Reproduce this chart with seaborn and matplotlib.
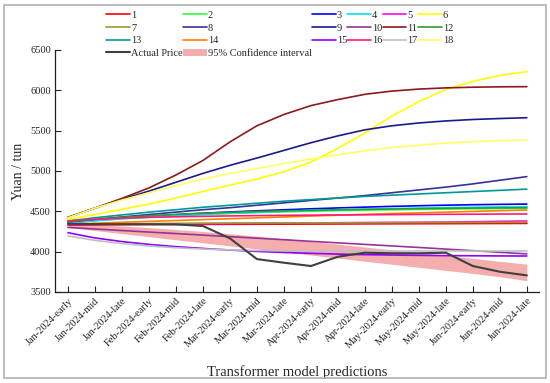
"""Transformer model predictions vs actual price, with 95% CI band."""
import matplotlib
matplotlib.use("Agg")
import matplotlib.pyplot as plt
from matplotlib.patches import Rectangle
import numpy as np
import pandas as pd
import seaborn as sns

# ---------------------------------------------------------------------------
# Data
# ---------------------------------------------------------------------------

periods = [
    "Jan-2024-early", "Jan-2024-mid", "Jan-2024-late",
    "Feb-2024-early", "Feb-2024-mid", "Feb-2024-late",
    "Mar-2024-early", "Mar-2024-mid", "Mar-2024-late",
    "Apr-2024-early", "Apr-2024-mid", "Apr-2024-late",
    "May-2024-early", "May-2024-mid", "May-2024-late",
    "Jun-2024-early", "Jun-2024-mid", "Jun-2024-late",
]

s1 = [4330, 4332, 4334, 4336, 4337, 4338, 4339, 4340, 4341, 4342, 4343, 4344, 4345, 4346, 4347, 4348, 4349, 4350]
s2 = [4355, 4385, 4410, 4430, 4447, 4461, 4473, 4484, 4493, 4501, 4508, 4514, 4519, 4524, 4528, 4532, 4535, 4538]
s3 = [4360, 4390, 4415, 4438, 4458, 4476, 4492, 4506, 4519, 4531, 4542, 4552, 4561, 4569, 4576, 4582, 4586, 4590]
s4 = [4355, 4383, 4407, 4428, 4446, 4462, 4476, 4489, 4500, 4510, 4519, 4527, 4534, 4540, 4546, 4551, 4555, 4558]
s5 = [4335, 4338, 4341, 4344, 4346, 4348, 4350, 4352, 4354, 4356, 4358, 4360, 4362, 4364, 4367, 4371, 4376, 4380]
s6 = [4400, 4460, 4525, 4590, 4665, 4745, 4825, 4900, 4990, 5110, 5280, 5470, 5680, 5860, 6010, 6110, 6185, 6230]
s7 = [4340, 4343, 4346, 4348, 4350, 4352, 4354, 4355, 4356, 4357, 4358, 4359, 4360, 4361, 4362, 4363, 4364, 4365]
s8 = [4370, 4400, 4430, 4460, 4490, 4520, 4545, 4575, 4605, 4635, 4665, 4695, 4730, 4765, 4800, 4840, 4885, 4930]
s9 = [4425, 4540, 4650, 4750, 4860, 4970, 5070, 5160, 5255, 5350, 5435, 5510, 5560, 5595, 5620, 5638, 5650, 5660]
s10 = [4300, 4281, 4262, 4243, 4224, 4205, 4186, 4167, 4148, 4128, 4109, 4090, 4071, 4052, 4032, 4012, 3992, 3972]
s11 = [4425, 4540, 4660, 4790, 4950, 5130, 5360, 5560, 5700, 5810, 5885, 5950, 5990, 6015, 6030, 6038, 6043, 6045]
s12 = [4370, 4400, 4425, 4445, 4462, 4476, 4488, 4498, 4506, 4513, 4519, 4524, 4529, 4533, 4537, 4540, 4543, 4545]
s13 = [4380, 4420, 4455, 4490, 4520, 4550, 4575, 4600, 4625, 4645, 4665, 4685, 4700, 4715, 4730, 4745, 4760, 4775]
s14 = [4340, 4352, 4364, 4375, 4386, 4397, 4408, 4419, 4430, 4441, 4452, 4462, 4472, 4481, 4490, 4499, 4508, 4516]
s15 = [4235, 4170, 4125, 4090, 4062, 4040, 4020, 4003, 3990, 3979, 3970, 3963, 3958, 3954, 3951, 3949, 3947, 3946]
s16 = [4380, 4400, 4415, 4425, 4432, 4438, 4443, 4447, 4450, 4453, 4455, 4457, 4459, 4461, 4463, 4464, 4466, 4467]
s17 = [4195, 4140, 4100, 4070, 4048, 4032, 4022, 4015, 4012, 4010, 4009, 4008, 4008, 4008, 4008, 4008, 4008, 4008]
s18 = [4420, 4540, 4640, 4730, 4820, 4900, 4970, 5030, 5090, 5150, 5200, 5250, 5290, 5320, 5345, 5362, 5375, 5385]

actual_price = [4345, 4342, 4340, 4340, 4338, 4318, 4165, 3908, 3863, 3822, 3937, 3987, 3980, 3980, 3987, 3822, 3751, 3706]
ci_upper = [4350, 4335, 4318, 4298, 4275, 4250, 4222, 4192, 4160, 4127, 4093, 4058, 4022, 3990, 3955, 3918, 3880, 3845]
ci_lower = [4300, 4262, 4224, 4186, 4148, 4110, 4072, 4034, 3996, 3958, 3920, 3882, 3844, 3806, 3768, 3730, 3690, 3640]

series = [s1, s2, s3, s4, s5, s6, s7, s8, s9, s10, s11, s12, s13, s14, s15, s16, s17, s18]
series_names = [str(i) for i in range(1, 19)]
series_colors = [
    "#ff0000", "#33ff33", "#0000ff", "#00e5ff", "#ff00ff", "#ffff00",
    "#999933", "#333399", "#1a1a8c", "#993399", "#8b1a1a", "#339933",
    "#009999", "#ff8000", "#8f00ff", "#ff1a75", "#c0c0c0", "#ffff66",
]

# ---------------------------------------------------------------------------
# Plot
# ---------------------------------------------------------------------------

sns.set_style("ticks")
plt.rcParams["font.family"] = ["Liberation Serif", "DejaVu Serif"]
plt.rcParams["xtick.direction"] = "in"
plt.rcParams["ytick.direction"] = "in"

fig = plt.figure(figsize=(5.5, 3.83), dpi=100)
ax = fig.add_axes([0.1, 0.2376, 0.88, 0.632])

x = np.arange(len(periods))

ax.fill_between(x, ci_lower, ci_upper, color="#f4a0a0", alpha=0.85, linewidth=0,
                label="95% Confidence interval", zorder=1)

for name, vals, c in zip(series_names, series, series_colors):
    sns.lineplot(x=x, y=vals, color=c, linewidth=1.2, label=name, ax=ax, zorder=2)

sns.lineplot(x=x, y=actual_price, color="#404040", linewidth=1.5,
             label="Actual Price", ax=ax, zorder=3)

ax.set_xlim(-0.48, 17.45)
ax.set_ylim(3500, 6500)
ax.set_yticks(np.arange(3500, 6501, 500))
ax.set_xticks(x)
ax.set_xticklabels(periods, rotation=45, ha="right", rotation_mode="anchor", fontsize=7.5)
ax.tick_params(axis="y", labelsize=7.5, length=4, width=0.8, pad=3)
ax.tick_params(axis="x", length=4, width=0.8, pad=3)
sns.despine(ax=ax)
for sp in ("left", "bottom"):
    ax.spines[sp].set_linewidth(0.9)
    ax.spines[sp].set_color("#222222")

ax.set_xlabel("Transformer model predictions", fontsize=10.5, labelpad=11)
ax.set_ylabel("Yuan / tun", fontsize=10, labelpad=4)

# legend: 6 columns filled row-wise as in the original
handles, labels = ax.get_legend_handles_labels()
hmap = dict(zip(labels, handles))
order = ["1", "7", "13", "Actual Price", "2", "8", "14", "95% Confidence interval",
         "3", "9", "15", "4", "10", "16", "5", "11", "17", "6", "12", "18"]
ax.legend([hmap[k] for k in order], order, ncol=6, loc="upper left",
          bbox_to_anchor=(0.193, 0.972), bbox_transform=fig.transFigure,
          frameon=False, fontsize=7.5, handlelength=2.3, handletextpad=0.1,
          columnspacing=0.0, labelspacing=0.32, borderpad=0, borderaxespad=0)

fig.patches.append(Rectangle((0.008, 0.012), 0.984, 0.976, transform=fig.transFigure,
                             fill=False, edgecolor="#b0b0b0", linewidth=1.2))

fig.savefig("out.png", dpi=100)
plt.close(fig)
